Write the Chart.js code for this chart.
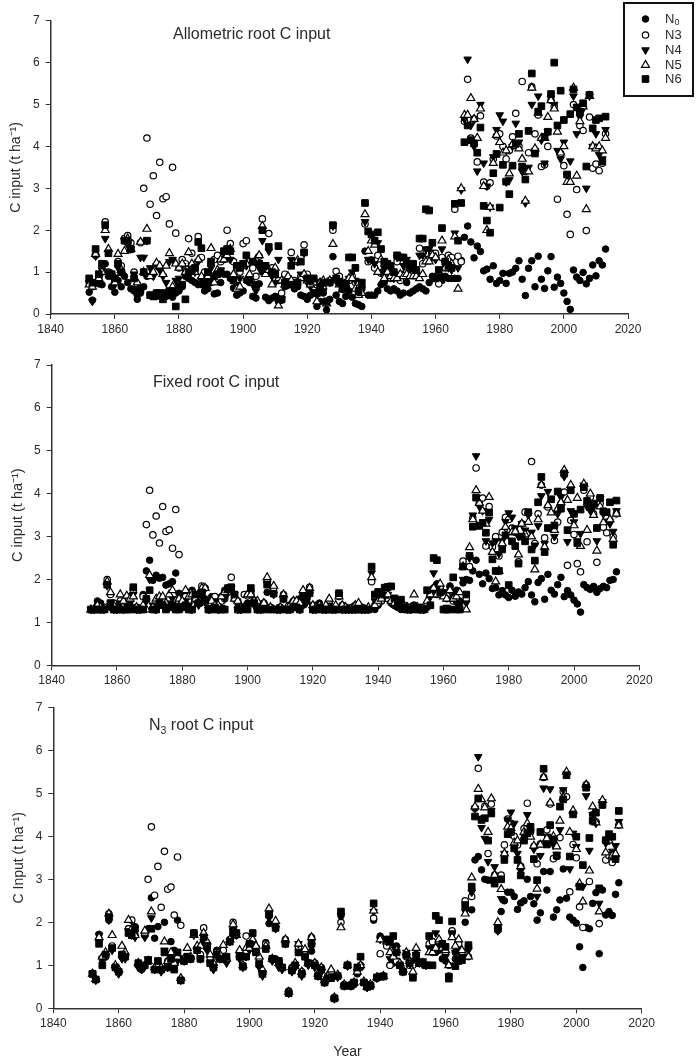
<!DOCTYPE html>
<html>
<head>
<meta charset="utf-8">
<title>C input</title>
<script src="https://cdn.jsdelivr.net/npm/chart.js@4/dist/chart.umd.js"></script>
<style>
body { margin: 0; background: #fff; width: 700px; height: 1062px; position: relative; overflow: hidden; }
canvas { position: absolute; left: 0; }
.ptitle { position: absolute; font: 16px "Liberation Sans", Arial, sans-serif; color: #2a2a2a; white-space: nowrap; line-height: 18px; }
.ptitle sub { font-size: 10.5px; line-height: 0; }
</style>
</head>
<body>
<canvas id="c1" width="700" height="345" style="top:0"></canvas>
<canvas id="c2" width="700" height="345" style="top:345px"></canvas>
<canvas id="c3" width="700" height="372" style="top:690px"></canvas>
<div class="ptitle" style="left:173px;top:25px">Allometric root C input</div>
<div class="ptitle" style="left:153px;top:373px">Fixed root C input</div>
<div class="ptitle" style="left:149px;top:716px">N<sub>3</sub> root C input</div>
<script>
const years = [1852,1853,1854,1855,1856,1857,1858,1859,
  1860,1861,1862,1863,1864,1865,1866,1867,1868,1869,
  1870,1871,1872,1873,1874,1875,1876,1877,1878,1879,
  1880,1881,1882,1883,1884,1885,1886,1887,1888,1889,
  1890,1891,1892,1893,1894,1895,1896,1897,1898,1899,
  1900,1901,1902,1903,1904,1905,1906,1907,1908,1909,
  1910,1911,1912,1913,1914,1915,1916,1917,1918,1919,
  1920,1921,1922,1923,1924,1925,1926,1927,1928,1929,
  1930,1931,1932,1933,1934,1935,1936,1937,1938,1939,
  1940,1941,1942,1943,1944,1945,1946,1947,1948,1949,
  1950,1951,1952,1953,1954,1955,1956,1957,1958,1959,
  1960,1961,1962,1963,1964,1965,1966,1967,1968,1969,
  1970,1971,1972,1973,1974,1975,1976,1977,1978,1979,
  1980,1981,1982,1983,1984,1985,1986,1987,1988,1989,
  1990,1991,1992,1993,1994,1995,1996,1997,1998,1999,
  2000,2001,2002,2003,2004,2005,2006,2007,2008,2009,
  2010,2011,2012,2013];
const xTicks = [1840,1860,1880,1900,1920,1940,1960,1980,2000,2020];
const yTicks = [0,1,2,3,4,5,6,7];
const seriesNames = ['N0','N3','N4','N5','N6'];

// Allometric root C input
const allomN0 = [.52,.33,.75,.72,.7,1.2,.9,.65,
  .52,.8,.65,.9,.75,.6,.55,.35,.5,.65,
  .9,.45,.42,.42,.48,.4,.42,.5,.4,.5,
  .55,.65,.9,.85,.8,.75,.7,.7,.55,.6,
  .75,.48,.5,.75,.95,.95,.85,.62,.45,.5,
  .55,.8,.75,.42,.38,.72,1.0,.4,.32,.38,
  .42,.3,.33,.65,.7,.75,.6,.65,.45,.42,
  .35,.45,.55,.18,.3,.5,.1,.35,1.37,.45,
  .3,.25,.42,.55,.4,.25,.22,.18,1.5,.45,
  .45,.45,.55,.7,.75,.6,.55,.6,.55,.45,
  .5,.75,.5,.55,.6,.65,.6,.55,.75,.9,
  .9,.9,.8,.9,.85,.85,.85,.85,1.28,1.83,
  2.1,1.72,1.34,1.62,1.49,1.03,1.07,.83,1.15,.73,
  .8,.97,.73,.97,1.0,1.09,1.27,.83,.44,1.09,
  1.27,.65,1.38,.83,.61,1.03,1.37,.64,.88,.73,
  .5,.3,.11,1.05,.88,.8,.99,.72,.85,1.17,
  .91,1.27,1.17,1.55];
const allomN3 = [.75,.65,1.4,.85,1.0,2.2,1.0,.95,
  .8,1.25,1.15,1.8,1.87,1.7,1.0,.7,1.7,3.0,
  4.2,2.62,3.3,2.35,3.62,2.75,2.8,2.15,3.5,1.93,
  1.1,1.3,1.2,1.8,1.45,1.1,1.85,1.35,1.0,.9,
  1.2,1.3,1.4,1.25,1.3,2.0,1.68,1.25,1.1,1.0,
  1.68,1.75,1.25,1.1,.9,1.38,2.27,1.1,1.92,1.1,
  .85,.8,.5,.95,.85,1.47,.8,1.25,.9,1.65,
  .95,.7,.65,.7,.75,.6,.3,.8,2.0,1.02,
  .9,.6,.75,.8,.9,.75,.5,.6,2.15,1.25,
  1.29,1.1,1.4,.97,1.05,.95,.85,.9,1.25,.8,
  .95,1.0,.95,1.0,.95,1.57,1.2,1.45,1.3,1.45,
  1.45,.72,1.35,1.1,1.4,1.35,2.5,1.38,1.25,4.6,
  5.6,4.2,4.65,3.63,4.73,3.15,3.05,3.13,3.7,4.25,
  4.3,4.0,3.7,3.9,4.23,4.79,4.0,5.55,3.4,3.85,
  5.42,4.3,4.75,3.52,3.56,4.0,5.1,4.96,2.74,3.83,
  3.54,2.38,1.9,5.0,2.97,4.5,4.38,1.99,4.7,3.48,
  3.58,3.42,3.6,4.3];
const allomN4 = [.75,.3,1.38,.85,1.05,1.8,1.0,.9,
  .7,1.1,1.0,1.75,1.65,1.55,.95,.6,1.35,1.35,
  1.75,1.1,.9,1.15,1.05,.9,.75,1.25,1.3,.8,
  .85,1.15,1.0,.95,1.15,1.0,1.25,.8,.7,.8,
  1.1,.9,.95,1.05,1.45,1.4,1.3,.9,.7,.85,
  1.15,1.15,.85,.7,.55,1.1,1.75,1.0,1.5,.9,
  .75,1.3,.35,.7,.7,1.3,.75,1.25,.95,1.45,
  .75,.65,.8,.45,.7,.55,.25,.75,2.1,.8,
  .8,.6,.75,.85,1.0,.8,.5,.6,2.2,1.3,
  1.3,1.2,1.7,1.0,1.1,1.0,.95,.85,1.35,.95,
  1.15,1.3,1.1,1.05,.95,1.4,1.4,1.55,1.55,1.4,
  1.3,.9,1.55,1.2,1.1,1.05,1.93,1.1,2.96,4.65,
  6.08,4.5,4.0,3.41,5.0,3.6,3.05,2.55,3.75,4.4,
  4.75,4.6,3.15,3.2,4.0,4.55,4.1,3.4,2.65,3.5,
  5.0,3.9,5.2,4.15,3.6,4.35,5.15,5.0,3.9,3.7,
  4.1,3.3,3.65,5.2,4.3,4.7,4.9,3.0,5.2,4.0,
  4.3,3.8,3.7,4.4];
const allomN5 = [.7,.65,1.43,.85,1.0,2.0,1.55,.9,
  .75,1.43,1.05,1.5,1.8,1.55,.85,.75,1.72,1.0,
  2.03,.9,1.0,1.22,1.15,.95,1.15,1.45,.65,1.2,
  1.1,1.2,1.0,1.47,1.2,1.0,1.3,.9,.8,.9,
  1.57,.75,1.05,1.3,1.3,1.4,1.55,.95,.6,.65,
  1.15,1.2,.95,.75,1.3,1.4,2.1,.95,1.05,.7,
  1.1,.2,.8,.7,.9,.8,.7,1.28,.85,.95,
  .8,.7,.75,.3,.75,.8,.25,.8,1.67,.8,
  .7,.6,.7,.85,.85,.6,.45,.5,2.38,1.5,
  1.75,1.65,1.0,1.3,.85,1.0,.9,.85,.85,.95,
  .9,.95,.9,.9,.9,.85,.95,1.25,1.25,1.4,
  1.35,1.0,1.75,1.1,1.3,1.2,1.85,.6,3.0,4.75,
  4.75,5.15,4.65,4.2,4.9,3.05,2.0,2.55,3.6,4.27,
  4.1,3.85,3.9,3.35,4.05,4.0,3.95,3.7,2.7,3.4,
  5.4,3.95,4.8,4.2,4.2,4.7,5.1,4.9,4.35,3.85,
  4.0,3.15,3.15,5.4,3.3,4.6,4.95,2.5,5.2,4.0,
  3.95,4.0,3.9,4.2];
const allomN6 = [.85,.75,1.55,.95,1.2,2.12,1.45,.95,
  .85,1.2,1.0,1.75,1.75,1.55,.85,.5,.6,1.0,
  1.75,.45,.42,.5,.5,.35,.5,.55,.55,.18,
  .65,.7,.35,1.0,1.05,1.1,1.72,1.57,.75,1.0,
  1.25,.9,.95,1.0,1.5,1.55,1.5,.8,1.15,1.1,
  1.2,1.4,.8,1.25,.7,1.2,2.0,1.15,1.6,1.0,
  .95,1.62,.35,.75,.7,1.15,.7,.75,1.25,1.47,
  .85,.8,.85,.5,.65,.75,.3,.75,2.12,.85,
  .75,.6,.7,1.35,1.35,1.1,.55,.75,2.65,1.97,
  1.9,1.75,1.95,1.55,1.25,1.2,1.15,1.0,1.4,1.35,
  1.35,1.2,1.15,1.2,1.05,1.8,1.8,2.5,2.47,1.7,
  .85,1.05,2.05,1.25,1.15,1.1,2.63,1.75,2.65,4.1,
  4.5,4.15,4.07,3.85,4.45,2.58,2.23,1.94,3.36,3.82,
  2.54,3.56,3.16,2.86,3.54,4.06,4.3,3.52,3.21,4.37,
  5.74,3.83,4.83,4.96,4.23,4.35,5.25,6.0,4.5,5.33,
  4.63,3.33,4.77,5.36,4.93,4.83,5.03,3.52,5.23,4.43,
  4.63,4.67,3.64,4.71];

// Fixed root C input
const fixedN0 = [1.3,1.3,1.5,1.45,1.3,1.9,1.35,1.3,
  1.3,1.45,1.35,1.5,1.4,1.8,1.3,1.3,1.65,2.2,
  2.45,1.98,2.1,2.03,2.05,1.87,1.9,1.95,2.15,1.68,
  1.6,1.4,1.7,1.75,1.55,1.6,1.7,1.55,1.4,1.6,
  1.55,1.4,1.6,1.75,1.8,1.75,1.65,1.45,1.35,1.35,
  1.45,1.65,1.5,1.35,1.3,1.45,1.7,1.3,1.3,1.3,
  1.35,1.55,1.3,1.4,1.5,1.5,1.55,1.4,1.6,1.7,
  1.3,1.4,1.45,1.3,1.3,1.4,1.3,1.3,1.6,1.3,
  1.3,1.3,1.35,1.35,1.4,1.35,1.3,1.3,2.0,1.3,
  1.4,1.5,1.7,1.8,1.5,1.4,1.35,1.3,1.3,1.35,
  1.35,1.4,1.35,1.3,1.3,1.35,1.4,1.75,1.9,1.8,
  1.7,1.55,1.85,1.6,1.75,1.5,1.92,2.0,1.98,2.2,
  2.45,2.12,1.9,2.15,2.02,1.79,1.81,1.64,1.74,1.64,
  1.58,1.75,1.61,1.71,1.66,1.81,1.95,1.64,1.48,1.93,
  2.02,1.54,2.12,1.75,1.66,1.88,2.05,1.6,1.74,1.64,
  1.52,1.43,1.24,1.88,1.81,1.77,1.84,1.7,1.79,1.84,
  1.81,1.98,2.0,2.18];
const fixedN3 = [1.3,1.3,1.4,1.35,1.35,2.0,1.65,1.45,
  1.35,1.5,1.4,1.55,1.6,1.75,1.35,1.3,1.6,3.28,
  4.08,3.04,3.48,2.85,3.7,3.12,3.16,2.73,3.63,2.58,
  1.45,1.6,1.5,1.7,1.55,1.5,1.85,1.8,1.5,1.45,
  1.6,1.45,1.5,1.55,1.7,2.05,1.55,1.5,1.35,1.65,
  1.62,1.7,1.5,1.45,1.35,1.45,1.95,1.35,1.8,1.3,
  1.35,1.65,1.3,1.4,1.45,1.5,1.45,1.7,1.55,1.82,
  1.4,1.35,1.4,1.3,1.35,1.45,1.3,1.35,1.65,1.4,
  1.35,1.3,1.35,1.4,1.4,1.35,1.3,1.3,1.95,1.4,
  1.45,1.5,1.6,1.55,1.45,1.4,1.4,1.35,1.4,1.35,
  1.35,1.4,1.35,1.35,1.3,1.4,1.65,1.8,1.65,1.8,
  1.65,1.3,1.75,1.5,1.5,1.45,2.43,1.55,2.3,3.43,
  4.6,3.8,3.9,2.78,3.7,2.76,3.0,2.55,3.1,3.45,
  3.4,3.2,3.1,2.41,3.3,3.57,3.55,4.75,2.84,3.53,
  4.2,2.97,3.69,3.2,2.91,3.34,3.77,4.04,2.33,3.38,
  3.05,2.37,2.18,4.08,2.88,3.92,3.53,2.4,3.77,3.22,
  3.09,3.38,3.0,3.53];
const fixedN4 = [1.3,1.3,1.35,1.3,1.3,1.85,1.4,1.3,
  1.3,1.45,1.3,1.4,1.45,1.65,1.3,1.3,1.35,1.5,
  2.0,1.4,1.3,1.4,1.4,1.4,1.45,1.55,1.4,1.35,
  1.35,1.5,1.4,1.3,1.5,1.4,1.65,1.5,1.3,1.35,
  1.5,1.3,1.35,1.55,1.75,1.8,1.65,1.3,1.3,1.35,
  1.4,1.7,1.4,1.3,1.3,1.35,1.9,1.35,1.65,1.3,
  1.3,1.55,1.3,1.3,1.4,1.4,1.3,1.55,1.45,1.65,
  1.3,1.3,1.35,1.3,1.3,1.4,1.3,1.3,1.65,1.3,
  1.3,1.3,1.3,1.3,1.35,1.3,1.3,1.3,2.15,1.5,
  1.6,1.7,1.6,1.65,1.45,1.4,1.4,1.35,1.35,1.3,
  1.3,1.4,1.35,1.3,1.3,1.35,1.6,2.15,1.8,1.7,
  1.7,1.35,1.8,1.6,1.45,1.45,2.0,1.45,2.5,3.5,
  4.88,3.7,3.6,2.9,3.4,2.85,2.9,2.6,2.9,3.35,
  3.55,3.45,3.2,3.0,3.3,3.15,3.5,3.1,2.8,3.25,
  3.95,2.84,4.05,3.2,3.0,3.53,3.92,4.4,2.88,3.6,
  3.34,2.9,3.07,4.2,3.7,3.6,3.7,2.9,3.88,3.53,
  3.38,3.3,3.12,3.6];
const fixedN5 = [1.3,1.3,1.4,1.35,1.3,1.95,1.7,1.4,
  1.3,1.65,1.5,1.62,1.55,1.6,1.35,1.3,1.4,1.3,
  2.1,1.35,1.55,1.6,1.6,1.45,1.65,1.75,1.5,1.55,
  1.5,1.75,1.6,1.65,1.55,1.45,1.8,1.8,1.45,1.5,
  1.4,1.4,1.6,1.7,1.75,1.75,1.55,1.5,1.35,1.35,
  1.65,1.65,1.5,1.5,1.35,1.45,2.05,1.35,1.85,1.3,
  1.35,1.65,1.35,1.4,1.5,1.5,1.45,1.75,1.6,1.8,
  1.4,1.35,1.4,1.3,1.4,1.55,1.3,1.4,1.6,1.4,
  1.35,1.3,1.3,1.4,1.45,1.3,1.3,1.35,2.05,1.4,
  1.5,1.55,1.75,1.65,1.5,1.45,1.4,1.35,1.35,1.35,
  1.3,1.65,1.35,1.3,1.3,1.5,1.65,1.8,1.65,1.9,
  1.6,1.55,1.75,1.55,1.6,1.7,2.3,1.3,2.75,3.4,
  4.08,3.78,3.6,3.3,3.92,2.64,1.95,2.2,2.84,3.22,
  3.1,3.1,3.12,2.58,3.3,3.05,3.34,3.0,2.23,3.4,
  4.2,2.76,3.73,3.56,3.15,3.65,3.8,4.55,3.85,4.2,
  3.26,3.9,2.78,4.23,3.15,4.0,3.5,2.67,3.7,3.33,
  3.46,3.4,2.94,3.53];
const fixedN6 = [1.3,1.3,1.3,1.3,1.3,1.88,1.45,1.3,
  1.3,1.3,1.3,1.3,1.3,1.82,1.3,1.3,1.3,1.55,
  1.75,1.3,1.3,1.45,1.4,1.3,1.35,1.4,1.3,1.3,
  1.35,1.4,1.3,1.3,1.65,1.45,1.7,1.5,1.3,1.3,
  1.35,1.3,1.3,1.3,1.8,1.82,1.65,1.3,1.3,1.35,
  1.3,1.8,1.45,1.3,1.3,1.3,1.88,1.3,1.67,1.3,
  1.3,1.55,1.3,1.3,1.35,1.35,1.3,1.6,1.5,1.68,
  1.3,1.3,1.35,1.3,1.3,1.3,1.3,1.3,1.68,1.3,
  1.3,1.3,1.3,1.3,1.3,1.3,1.3,1.3,2.3,1.65,
  1.71,1.65,1.81,1.83,1.84,1.56,1.4,1.53,1.35,1.3,
  1.3,1.35,1.3,1.3,1.3,1.75,1.4,2.5,2.45,1.7,
  1.3,1.3,1.3,2.05,1.3,1.3,2.3,1.65,2.55,3.23,
  3.91,3.25,3.32,3.09,3.56,2.47,2.2,2.2,2.7,3.03,
  1.87,2.89,2.78,2.37,3.0,2.89,3.57,2.7,2.44,3.8,
  4.39,2.64,3.2,3.87,3.26,4.05,3.65,4.47,3.15,4.08,
  3.53,2.85,3.63,4.15,3.83,3.69,3.77,3.2,3.9,3.59,
  3.57,3.8,2.81,3.84];

// N3 root C input
const rootN0 = [.82,.67,1.72,1.17,1.25,2.05,1.4,.98,
  .85,1.2,1.25,1.85,1.75,1.9,1.0,.95,1.7,1.85,
  2.57,1.63,1.9,.9,2.0,1.1,1.55,1.35,2.05,1.15,
  1.1,1.2,1.15,1.75,1.4,1.15,1.7,1.45,1.1,.95,
  1.35,1.2,1.2,1.1,1.55,1.85,1.75,1.2,.97,1.2,
  1.45,1.55,1.3,1.05,.8,1.53,1.97,1.15,1.15,1.1,
  .95,1.5,.37,.9,.98,1.3,.82,1.2,1.05,1.33,
  1.05,.75,.95,.6,.75,.75,.23,.75,2.15,.55,
  1.0,.52,.55,.8,.95,.6,.5,.55,2.05,.7,
  1.68,.74,1.6,1.0,1.05,1.45,1.0,.85,1.25,1.1,
  .72,1.15,1.05,1.05,1.0,1.0,1.3,1.3,1.35,1.15,
  1.1,1.0,1.75,1.15,1.35,1.2,2.0,1.2,2.29,3.45,
  3.53,3.22,3.0,2.98,2.98,2.95,1.81,2.25,2.5,2.7,
  2.7,2.6,2.3,2.45,2.5,3.0,2.6,2.43,2.05,2.22,
  3.18,2.75,3.18,2.12,2.29,2.52,3.24,2.56,2.12,2.05,
  1.98,1.43,.95,1.88,1.85,2.44,2.69,1.27,2.75,2.17,
  2.25,2.16,2.65,2.92];
const rootN3 = [.8,.67,1.6,1.15,1.2,2.2,1.45,.95,
  .85,1.25,1.2,1.85,2.05,1.7,1.0,.9,1.7,3.0,
  4.22,2.63,3.3,2.35,3.65,2.77,2.82,2.17,3.52,1.93,
  1.1,1.2,1.15,1.75,1.4,1.25,1.87,1.5,1.15,1.0,
  1.3,1.25,1.35,1.15,1.6,2.0,1.7,1.3,1.0,1.68,
  1.4,1.55,1.35,1.1,.85,1.5,2.2,1.15,1.9,1.1,
  .95,1.6,.4,.95,1.0,1.4,.85,1.25,1.05,1.65,
  1.05,.75,.9,.6,.75,.85,.25,.75,2.0,.55,
  1.0,.55,.6,.85,1.0,.6,.5,.55,2.1,.7,
  1.27,.75,1.45,1.0,1.2,1.1,1.0,.85,1.2,1.0,
  1.0,1.25,1.05,1.05,1.0,1.5,1.55,1.4,1.4,1.4,
  1.3,.75,1.8,1.3,1.5,1.3,2.5,1.45,2.6,4.65,
  5.58,4.4,4.7,3.6,4.75,3.1,1.9,3.1,3.8,4.4,
  4.3,4.0,3.8,3.3,4.18,4.77,4.1,3.76,3.36,3.82,
  5.37,4.15,4.75,3.48,3.53,3.97,5.04,4.92,2.71,3.81,
  3.5,2.36,1.88,5.2,2.95,4.5,4.34,1.97,4.73,3.45,
  3.55,3.39,3.53,4.26];
const rootN4 = [.8,.65,1.7,1.15,1.2,2.05,1.35,.95,
  .8,1.15,1.15,1.8,1.7,1.65,.95,.9,1.65,1.15,
  2.1,.9,.95,.85,1.35,.95,1.25,1.0,1.1,.65,
  1.1,1.2,1.15,1.7,1.35,1.15,1.55,1.35,1.05,.9,
  1.2,1.15,1.15,1.05,1.55,1.7,1.7,1.15,.95,1.2,
  1.35,1.5,1.4,.95,.75,1.4,2.1,1.1,1.85,.95,
  .9,1.5,.35,.85,.95,1.5,.75,1.2,1.0,1.45,
  .95,.75,.85,.6,.7,.75,.22,.72,2.15,.52,
  .98,.52,.6,.85,.97,.6,.48,.52,2.25,.7,
  1.6,.75,1.55,1.15,1.45,1.4,1.0,.85,1.3,1.05,
  .75,1.25,1.05,1.1,1.0,1.4,1.4,1.75,1.45,1.4,
  1.2,.75,1.75,1.3,1.35,1.2,2.25,1.35,2.7,4.65,
  5.85,4.2,3.95,3.41,4.6,3.29,1.8,2.55,3.6,4.38,
  4.56,4.3,3.6,3.2,4.0,4.5,4.1,3.7,2.6,3.55,
  5.12,4.0,5.1,3.8,3.58,4.15,5.08,5.45,3.24,4.07,
  3.76,2.85,2.83,4.94,3.67,4.5,4.3,2.44,4.8,3.84,
  3.9,3.65,3.78,4.34];
const rootN5 = [.8,.68,1.65,1.2,1.3,2.2,1.7,1.0,
  .9,1.45,1.3,2.05,1.85,1.7,1.05,.95,1.8,1.1,
  2.25,.95,1.0,.95,1.55,1.1,1.3,1.05,1.2,.7,
  1.15,1.4,1.2,1.7,1.45,1.45,1.75,1.55,1.25,1.05,
  1.25,1.25,1.47,1.15,1.6,1.95,1.7,1.35,1.0,1.4,
  1.4,1.6,1.45,1.2,.9,1.45,2.32,1.15,2.03,1.05,
  .95,1.6,.38,.95,1.05,1.5,.85,1.37,1.05,1.65,
  1.05,.8,.95,.65,.75,.9,.25,.78,1.88,.55,
  1.0,.55,.6,.85,1.0,.62,.5,.55,2.27,.72,
  1.6,.75,1.55,1.3,1.2,1.35,1.05,.9,1.3,1.1,
  .85,1.4,1.05,1.05,1.0,1.3,1.3,1.4,1.6,1.4,
  1.35,1.0,1.65,1.45,1.6,1.35,2.2,1.2,3.04,4.69,
  5.1,4.86,4.67,4.1,4.88,3.1,2.0,2.77,3.6,4.22,
  4.19,3.85,3.9,3.3,4.1,4.3,3.99,3.78,2.78,3.8,
  5.37,3.95,4.78,4.0,3.76,4.36,4.9,5.5,4.1,4.6,
  3.7,2.9,2.48,5.2,3.2,4.69,4.32,2.25,4.84,3.62,
  3.9,3.55,3.59,4.25];
const rootN6 = [.8,.67,1.5,1.0,1.25,2.12,1.4,.95,
  .85,1.25,1.2,1.75,1.7,1.85,1.05,.95,1.0,1.1,
  1.85,.9,1.1,.9,1.3,.95,1.15,.9,1.3,.65,
  1.1,1.2,1.15,1.75,1.35,1.15,1.65,1.45,1.05,.95,
  1.25,1.15,1.15,1.2,1.55,1.8,1.75,1.2,.97,1.2,
  1.5,1.75,1.3,1.03,.8,1.38,2.18,1.15,1.87,1.1,
  .95,1.5,.35,.88,1.0,1.3,.8,1.2,1.05,1.5,
  1.0,.75,.9,.6,.7,.7,.23,.75,2.25,.52,
  1.0,.52,.6,.95,1.2,.6,.5,.52,2.44,.72,
  .74,.74,1.6,1.55,1.68,1.3,1.0,.85,1.24,1.05,
  .71,1.2,1.05,1.05,1.0,1.68,1.0,2.15,2.05,1.5,
  1.43,.69,2.02,.98,1.1,1.12,2.4,1.47,2.83,4.46,
  4.88,4.38,4.42,3.9,4.53,2.9,1.85,3.0,3.45,4.05,
  4.1,3.72,3.45,3.09,3.9,4.07,4.22,3.47,2.98,4.1,
  5.57,3.81,4.26,3.93,3.55,4.69,4.86,5.42,3.53,4.51,
  3.99,2.83,3.33,5.13,3.96,4.36,4.55,2.79,4.73,3.91,
  4.05,3.99,3.47,4.59];

const fontName = '"Liberation Sans", Arial, sans-serif';
const inkColor = '#2a2a2a';

// marker look per series, N0 first
const markers = [
  { pointStyle: 'circle', pointRadius: 3.3, pointBackgroundColor: '#000', pointBorderColor: '#000', pointBorderWidth: 1, pointRotation: 0 },
  { pointStyle: 'circle', pointRadius: 3.2, pointBackgroundColor: '#fff', pointBorderColor: '#000', pointBorderWidth: 1.2, pointRotation: 0 },
  { pointStyle: 'triangle', pointRadius: 4.4, pointBackgroundColor: '#000', pointBorderColor: '#000', pointBorderWidth: 1, pointRotation: 180 },
  { pointStyle: 'triangle', pointRadius: 4.6, pointBackgroundColor: '#fff', pointBorderColor: '#000', pointBorderWidth: 1.2, pointRotation: 0 },
  { pointStyle: 'rect', pointRadius: 4.7, pointBackgroundColor: '#000', pointBorderColor: '#000', pointBorderWidth: 1, pointRotation: 0 }
];

// box in the top right corner of the first panel
const legendBox = {
  id: 'legendBox',
  afterDraw(chart) {
    const ctx = chart.ctx;
    ctx.save();
    ctx.strokeStyle = '#111';
    ctx.lineWidth = 2;
    ctx.strokeRect(624, 3, 69, 93);
    const rows = [19, 35, 50, 65, 79];
    seriesNames.forEach((name, i) => {
      const m = markers[i];
      ctx.fillStyle = m.pointBackgroundColor;
      ctx.strokeStyle = m.pointBorderColor;
      ctx.lineWidth = m.pointBorderWidth;
      Chart.helpers.drawPoint(ctx, {
        pointStyle: m.pointStyle, radius: m.pointRadius, rotation: m.pointRotation, borderWidth: m.pointBorderWidth
      }, 645.5, rows[i]);
      ctx.fillStyle = inkColor;
      ctx.textBaseline = 'middle';
      ctx.font = '13px ' + fontName;
      if (name === 'N0') {
        ctx.fillText('N', 665, rows[i]);
        ctx.font = '9px ' + fontName;
        ctx.fillText('0', 674.5, rows[i] + 4);
      } else {
        ctx.fillText(name, 665, rows[i]);
      }
    });
    ctx.restore();
  }
};

function drawPanel(id, values, box, yLabel, extra) {
  const cv = document.getElementById(id);
  const datasets = values.map((vals, i) => Object.assign({
    label: seriesNames[i],
    data: vals.map((v, k) => ({ x: years[k], y: v })),
    showLine: false,
    order: values.length - i
  }, markers[i]));

  new Chart(cv, {
    type: 'scatter',
    data: { datasets: datasets },
    plugins: extra.plugins || [],
    options: {
      responsive: false,
      animation: false,
      clip: false,
      layout: { padding: { top: box.top, right: cv.width - box.right, bottom: 0, left: 0 } },
      plugins: { legend: { display: false }, tooltip: { enabled: false } },
      scales: {
        x: {
          type: 'linear', min: 1840, max: 2020,
          afterBuildTicks: s => { s.ticks = xTicks.map(v => ({ value: v })); },
          afterFit: s => { s.height = cv.height - box.bottom; },
          grid: { drawOnChartArea: false, drawTicks: true, tickLength: 5, color: '#333' },
          border: { color: '#333', width: 1.5 },
          ticks: { color: inkColor, font: { family: fontName, size: 12 }, padding: 3, maxRotation: 0, autoSkip: false, callback: v => String(v) },
          title: extra.xTitle ? { display: true, text: extra.xTitle, color: inkColor, font: { family: fontName, size: 14 }, padding: { top: 0, bottom: 1 } } : { display: false }
        },
        y: {
          min: 0, max: 7,
          afterBuildTicks: s => { s.ticks = yTicks.map(v => ({ value: v })); },
          afterFit: s => { s.width = box.left; },
          grid: { drawOnChartArea: false, drawTicks: true, tickLength: 5, color: '#333' },
          border: { color: '#333', width: 1.5 },
          ticks: { color: inkColor, font: { family: fontName, size: 12 }, padding: 6, callback: v => String(v) },
          title: { display: true, text: yLabel, color: inkColor, font: { family: fontName, size: extra.labelSize || 14 }, padding: { top: box.labelInset, bottom: 0 } }
        }
      }
    }
  });
}

drawPanel('c1', [allomN0, allomN3, allomN4, allomN5, allomN6],
  { left: 50.7, right: 628, top: 20.7, bottom: 314, labelInset: 8 }, 'C input (t ha\u207B\u00B9)', { plugins: [legendBox] });
drawPanel('c2', [fixedN0, fixedN3, fixedN4, fixedN5, fixedN6],
  { left: 51.7, right: 639.3, top: 20, bottom: 320.3, labelInset: 9 }, 'C input (t ha\u207B\u00B9)', { labelSize: 14.5 });
drawPanel('c3', [rootN0, rootN3, rootN4, rootN5, rootN6],
  { left: 53.3, right: 641.7, top: 17.3, bottom: 318.3, labelInset: 11 }, 'C Input (t ha\u207B\u00B9)', { xTitle: 'Year' });
</script>
</body>
</html>
